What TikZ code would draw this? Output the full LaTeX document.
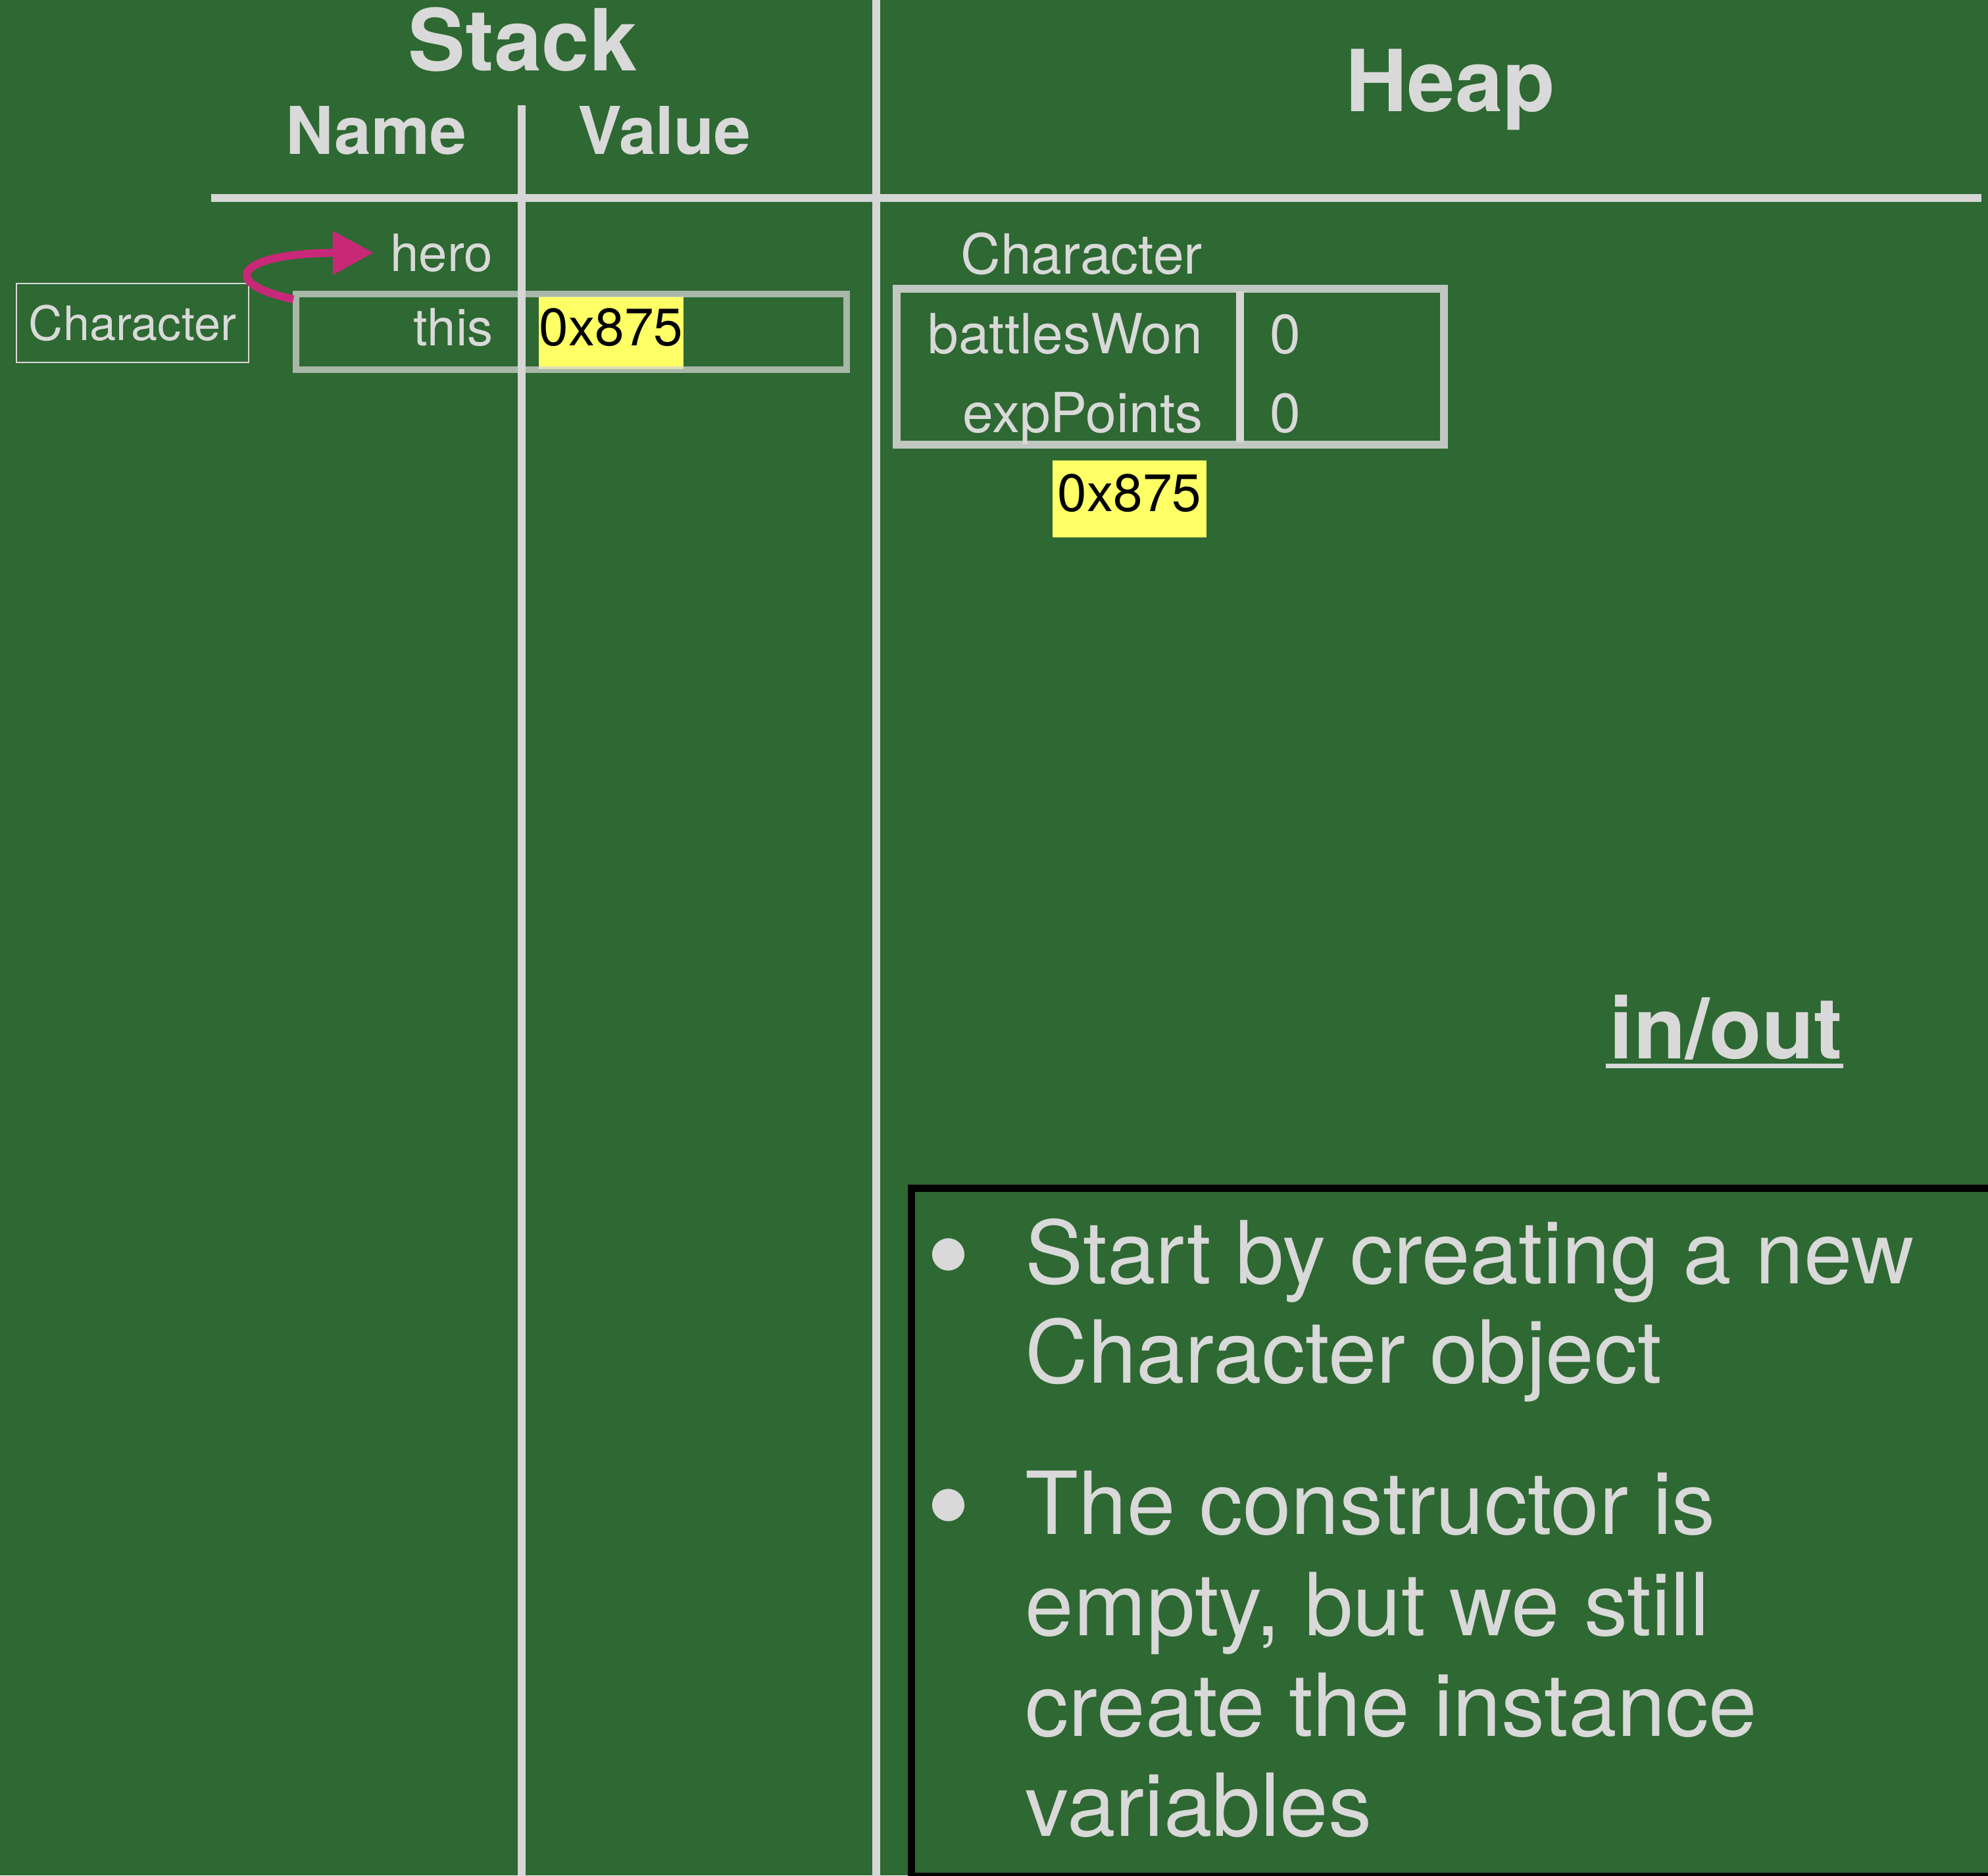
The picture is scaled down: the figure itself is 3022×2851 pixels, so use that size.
\documentclass[tikz,border=0pt]{standalone}
\usepackage{fontspec}
\setmainfont{TeX Gyre Heros}
\usetikzlibrary{arrows.meta}
\definecolor{board}{RGB}{46,104,50}
\definecolor{chalk}{RGB}{217,217,217}
\definecolor{rulecol}{RGB}{214,214,214}
\definecolor{hilite}{RGB}{255,255,102}
\definecolor{pinkarrow}{RGB}{200,40,120}
\begin{document}
\begin{tikzpicture}[x=0.01cm,y=-0.01cm,
  txt/.style={text=chalk, inner sep=0pt},
  big/.style={font=\bfseries\fontsize{37}{44}\selectfont},
  head/.style={font=\bfseries\fontsize{28.5}{34}\selectfont},
  small/.style={font=\fontsize{22.2}{26}\selectfont},
  mid/.style={font=\fontsize{23.9}{28}\selectfont},
  bul/.style={font=\fontsize{37.6}{44}\selectfont},
  bigdot/.style={font=\fontsize{56}{60}\selectfont},
  rulel/.style={draw=rulecol, line width=0.125cm},
  addr/.style={fill=hilite, text=black, inner sep=0pt, text depth=0.18cm, font=\fontsize{22.8}{27}\selectfont},
]
\fill[board] (0,0) rectangle (3022,2851);
\useasboundingbox (0,0) rectangle (3022,2851);
\begin{scope}
\clip (0,0) rectangle (3022,2851);

% table rules
\draw[rulel] (321,301) -- (3012,301);
\draw[rulel] (793,160) -- (793,2860);
\draw[rulel] (1332,-10) -- (1332,2860);

% headings
\node[txt,big,anchor=base] (stack) at (795,107) {Stack};
\node[txt,head,anchor=base] (name) at (572,234) {Name};
\node[txt,head,anchor=base] (value) at (1010,234) {Value};
\node[txt,big,anchor=base] (heap) at (2205,169) {Heap};

% stack side
\node[draw=chalk, line width=0.025cm, minimum width=3.53cm, minimum height=1.2cm,
      text=chalk, font=\fontsize{20.5}{24}\selectfont, inner sep=0pt] (cls) at (201.5,491) {Character};
\node[addr, minimum width=2.2cm, minimum height=1.1cm] (addr1) at (929,506) {0x875};
\node[draw=rulecol, draw opacity=0.72, line width=0.1cm, minimum width=8.37cm,
      minimum height=1.15cm, inner sep=0pt] (frame) at (868.5,504.5) {};
\node[txt,small,anchor=base east] (this) at (750,525) {this};
\node[txt,small,anchor=base east] (hero) at (750,412) {hero};
\coordinate (astart) at (446,455);
\coordinate (aend) at ([xshift=-0.25cm]hero.west);
\draw[pinkarrow, line width=0.12cm, -{Triangle[length=0.62cm,width=0.64cm]}]
  (astart) .. controls (330,430) and (360,385) .. (aend);

% heap side
\node[txt,mid,anchor=base] (hcls) at (1644,416) {Character};
\node[draw=rulecol, draw opacity=0.88, line width=0.12cm, minimum width=8.32cm,
      minimum height=2.37cm, inner sep=0pt] (obj) at (1779,557.5) {};
\draw[draw=rulecol, line width=0.12cm] (1885,443) -- (1885,673);
\node[txt,mid,anchor=base east] (bw) at (1829,537) {battlesWon};
\node[txt,mid,anchor=base east] (ep) at (1829,657) {expPoints};
\node[txt,mid,anchor=base west] (bwv) at (1930,537) {0};
\node[txt,mid,anchor=base west] (epv) at (1930,657) {0};
\node[addr, minimum width=2.34cm, minimum height=1.17cm] (addr2) at (1717,758.5) {0x875};

% in/out
\node[txt,big,anchor=base] (inout) at (2624,1609) {in/out};
\draw[rulecol, line width=0.07cm] ([xshift=-0.05cm,yshift=-0.115cm]inout.base west) -- ([yshift=-0.115cm]inout.base east);

% notes box
\draw[black, line width=0.11cm] (1385,1806) rectangle (3100,2852);
\node[txt,bigdot,anchor=base] (b1) at (1442,1975) {•};
\node[txt,bigdot,anchor=base] (b2) at (1442,2356) {•};
\node[txt,bul,anchor=base west] (l1) at (1558,1951) {Start by creating a new};
\node[txt,bul,anchor=base west] (l2) at (1558,2102) {Character object};
\node[txt,bul,anchor=base west] (l3) at (1558,2332) {The constructor is};
\node[txt,bul,anchor=base west] (l4) at (1558,2486) {empty, but we still};
\node[txt,bul,anchor=base west] (l5) at (1558,2639) {create the instance};
\node[txt,bul,anchor=base west] (l6) at (1558,2791) {variables};
\end{scope}
\end{tikzpicture}
\end{document}
